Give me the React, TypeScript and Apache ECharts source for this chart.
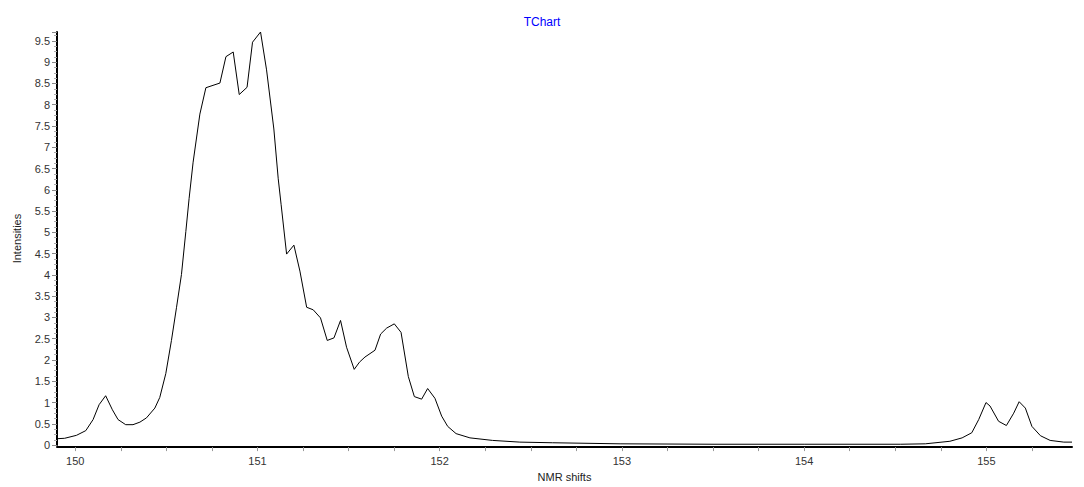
import React, { useEffect, useRef } from "react";
import * as echarts from "echarts";

const shifts = [
  149.9, 149.942, 150.007, 150.058, 150.098, 150.131, 150.167, 150.204, 150.235, 150.277,
  150.317, 150.355, 150.391, 150.437, 150.464, 150.497, 150.528, 150.556, 150.583, 150.607,
  150.625, 150.647, 150.684, 150.717, 150.794, 150.827, 150.867, 150.9, 150.943, 150.973,
  151.017, 151.05, 151.09, 151.114, 151.13, 151.16, 151.2, 151.233, 151.27, 151.306,
  151.346, 151.383, 151.42, 151.456, 151.489, 151.531, 151.56, 151.59, 151.645, 151.676,
  151.709, 151.751, 151.788, 151.828, 151.861, 151.901, 151.934, 151.974, 152.011, 152.044,
  152.09, 152.166, 152.29, 152.44, 152.62, 152.99, 153.5, 154.0, 154.53, 154.665,
  154.8, 154.867, 154.92, 154.958, 154.998, 155.02, 155.067, 155.11, 155.15, 155.18,
  155.214, 155.25, 155.297, 155.35, 155.425, 155.47,
];

const intensities = [
  0.15, 0.16, 0.23, 0.34, 0.6, 0.95, 1.16, 0.83, 0.6, 0.48,
  0.48, 0.54, 0.64, 0.87, 1.12, 1.68, 2.46, 3.24, 4.01, 5.02,
  5.8, 6.65, 7.78, 8.4, 8.51, 9.13, 9.24, 8.24, 8.41, 9.47,
  9.71, 8.82, 7.43, 6.26, 5.65, 4.49, 4.7, 4.09, 3.24, 3.18,
  2.99, 2.46, 2.52, 2.93, 2.3, 1.78, 1.95, 2.07, 2.23, 2.61,
  2.75, 2.85, 2.65, 1.61, 1.14, 1.08, 1.33, 1.1, 0.68, 0.44,
  0.27, 0.17, 0.11, 0.07, 0.055, 0.03, 0.02, 0.02, 0.02, 0.03,
  0.09, 0.17, 0.29, 0.6, 1.0, 0.92, 0.56, 0.46, 0.75, 1.02,
  0.87, 0.44, 0.22, 0.11, 0.07, 0.07,
];

const xTickLabels = [150, 151, 152, 153, 154, 155];
const xTickMarks = [
  150, 150.25, 150.5, 150.75, 151, 151.25, 151.5, 151.75, 152, 152.25, 152.5, 152.75,
  153, 153.25, 153.5, 153.75, 154, 154.25, 154.5, 154.75, 155, 155.25,
];

const FONT = "'Liberation Sans', Arial, sans-serif";

export default function App() {
  const ref = useRef<HTMLDivElement>(null);
  useEffect(() => {
    if (!ref.current) return;
    const chart = echarts.init(ref.current, undefined, { renderer: "svg" });
    const data = shifts.map((x, i) => [x, intensities[i]]);
    chart.setOption({
      animation: false,
      backgroundColor: "#ffffff",
      title: {
        text: "TChart",
        left: "center",
        top: 11,
        textStyle: { color: "#0000ff", fontSize: 12, fontWeight: "normal", fontFamily: FONT },
      },
      grid: { left: 57, right: 12, top: 32, bottom: 38, containLabel: false },
      xAxis: {
        type: "value",
        min: 149.9,
        max: 155.47,
        offset: 2,
        name: "NMR shifts",
        nameLocation: "middle",
        nameGap: 22,
        nameTextStyle: { color: "#222", fontSize: 11, fontFamily: FONT },
        axisLine: { show: true, onZero: false, lineStyle: { color: "#000", width: 2 } },
        axisTick: {
          show: true,
          length: 4,
          customValues: xTickMarks,
          lineStyle: { color: "#999", width: 1 },
        },
        axisLabel: {
          customValues: xTickLabels,
          margin: 8,
          color: "#333",
          fontSize: 11,
          fontFamily: FONT,
        },
        splitLine: { show: false },
        minorTick: { show: false },
      },
      yAxis: {
        type: "value",
        min: 0,
        max: 9.71,
        interval: 0.5,
        name: "Intensities",
        nameLocation: "middle",
        nameGap: 35,
        nameTextStyle: { color: "#222", fontSize: 11, fontFamily: FONT },
        axisLine: { show: true, lineStyle: { color: "#000", width: 2 } },
        axisTick: { show: true, length: 5, lineStyle: { color: "#888", width: 1 } },
        minorTick: { show: true, splitNumber: 4, length: 3, lineStyle: { color: "#aaa", width: 1 } },
        axisLabel: {
          showMaxLabel: false,
          margin: 7,
          color: "#333",
          fontSize: 11,
          fontFamily: FONT,
        },
        splitLine: { show: false },
      },
      series: [
        {
          type: "line",
          data,
          symbol: "none",
          smooth: false,
          lineStyle: { color: "#000", width: 1 },
          clip: true,
        },
      ],
    });
    return () => chart.dispose();
  }, []);
  return (
    <div
      ref={ref}
      style={{ position: "absolute", left: 0, top: 0, width: 1084, height: 487 }}
    />
  );
}
